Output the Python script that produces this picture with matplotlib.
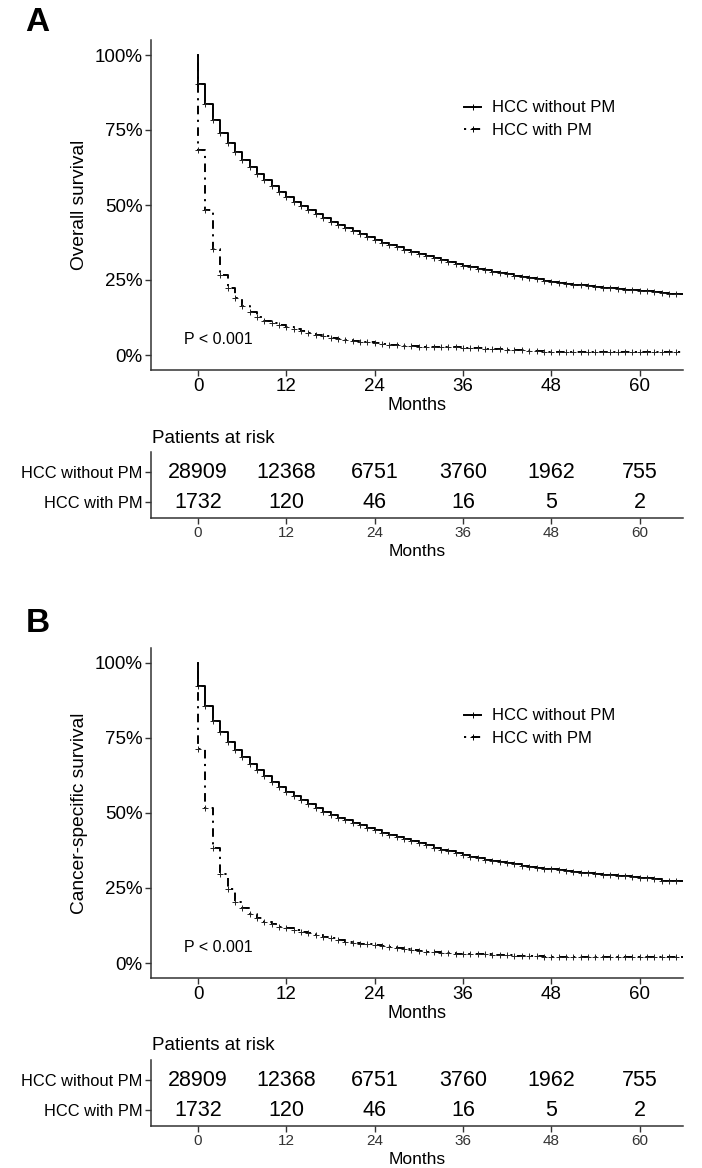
"""Kaplan-Meier curves (overall and cancer-specific survival) with risk tables."""

import matplotlib

matplotlib.use("Agg")
import matplotlib.pyplot as plt
from matplotlib.lines import Line2D

plt.rcParams["font.family"] = ["Liberation Sans", "DejaVu Sans"]

MONTHS = list(range(67))
GROUPS = ["HCC without PM", "HCC with PM"]

# survival (%), one value per month 0..66
OS_WITHOUT_PM = [
    90.5, 83.8, 78.3, 74.0, 70.6, 67.6, 65.0, 62.7, 60.4, 58.3,
    56.3, 54.5, 52.7, 51.1, 49.6, 48.2, 46.9, 45.6, 44.4, 43.3,
    42.2, 41.2, 40.2, 39.3, 38.4, 37.5, 36.7, 35.9, 35.1, 34.4,
    33.7, 33.0, 32.3, 31.7, 31.0, 30.4, 29.8, 29.3, 28.8, 28.3,
    27.8, 27.3, 26.9, 26.4, 26.0, 25.6, 25.2, 24.8, 24.4, 24.1,
    23.8, 23.5, 23.2, 22.9, 22.7, 22.4, 22.2, 22.0, 21.8, 21.6,
    21.4, 21.2, 20.9, 20.6, 20.3, 20.2, 20.2,
]
OS_WITH_PM = [
    68.3, 48.4, 35.4, 26.7, 22.2, 19.0, 16.2, 14.4, 12.6, 11.4,
    10.6, 9.9, 9.2, 8.6, 8.0, 7.4, 6.8, 6.2, 5.8, 5.4,
    5.1, 4.8, 4.5, 4.2, 4.0, 3.7, 3.4, 3.2, 3.0, 2.9,
    2.8, 2.8, 2.8, 2.8, 2.7, 2.6, 2.5, 2.3, 2.3, 2.0,
    2.0, 2.0, 1.7, 1.7, 1.7, 1.4, 1.4, 1.1, 1.1, 1.1,
    1.1, 1.1, 1.1, 1.1, 1.1, 1.1, 1.1, 1.1, 1.1, 1.1,
    1.1, 1.1, 1.1, 1.1, 1.1, 1.1, 1.1,
]
CSS_WITHOUT_PM = [
    92.2, 85.8, 80.8, 77.0, 73.8, 71.0, 68.7, 66.3, 64.2, 62.2,
    60.4, 58.7, 57.1, 55.6, 54.2, 52.9, 51.7, 50.5, 49.4, 48.4,
    47.6, 46.7, 45.9, 45.1, 44.3, 43.5, 42.7, 42.0, 41.3, 40.6,
    39.9, 39.2, 38.5, 37.8, 37.2, 36.6, 36.0, 35.5, 35.0, 34.5,
    34.1, 33.7, 33.3, 32.9, 32.5, 32.1, 31.8, 31.5, 31.2, 30.9,
    30.6, 30.4, 30.1, 29.9, 29.7, 29.5, 29.3, 29.1, 28.9, 28.7,
    28.5, 28.3, 27.9, 27.5, 27.3, 27.2, 27.2,
]
CSS_WITH_PM = [
    71.3, 51.6, 38.4, 29.7, 24.6, 20.5, 18.2, 16.4, 15.0, 13.8,
    13.0, 12.1, 11.6, 11.0, 10.4, 9.9, 9.3, 8.8, 8.2, 7.7,
    7.1, 6.8, 6.5, 6.2, 5.9, 5.6, 5.3, 5.0, 4.6, 4.3,
    4.0, 3.8, 3.6, 3.4, 3.2, 3.1, 3.0, 2.9, 2.9, 2.9,
    2.6, 2.6, 2.6, 2.3, 2.3, 2.3, 2.3, 1.9, 1.9, 1.9,
    1.9, 1.9, 1.9, 1.9, 1.9, 1.9, 1.9, 1.9, 1.9, 1.9,
    1.9, 1.9, 1.9, 1.9, 1.9, 1.9, 1.9,
]

RISK_TIMES = [0, 12, 24, 36, 48, 60]
RISK_WITHOUT_PM = [28909, 12368, 6751, 3760, 1962, 755]
RISK_WITH_PM = [1732, 120, 46, 16, 5, 2]

Y_TICKS = [0, 0.25, 0.5, 0.75, 1.0]
Y_TICK_LABELS = ["0%", "25%", "50%", "75%", "100%"]

W, H = 702, 1168
X_LIM = (-6.4, 65.9)
AXIS_COLOR = "#333333"
DOTDASH = (0, (1.1, 2.8, 4.4, 2.8))


def _rect(left, top, right, bottom):
    """Pixel box -> figure fraction rectangle."""
    return [left / W, 1 - bottom / H, (right - left) / W, (bottom - top) / H]


def _style_axes(ax):
    for side in ("top", "right"):
        ax.spines[side].set_visible(False)
    for side in ("left", "bottom"):
        ax.spines[side].set_color(AXIS_COLOR)
        ax.spines[side].set_linewidth(1.1)
    ax.tick_params(color=AXIS_COLOR, length=4, width=1.0, pad=2)


def draw_curves(ax, without_pm, with_pm, ylabel):
    """Draw the two step curves with censor marks, legend and p-value."""
    for values, style in ((without_pm, "-"), (with_pm, DOTDASH)):
        surv = [v / 100 for v in values]
        ax.plot([0] + MONTHS, [1.0] + surv, drawstyle="steps-post",
                color="black", lw=1.4, linestyle=style, clip_on=True)
        ax.plot(MONTHS[:-1], surv[:-1], ls="none", marker="+", ms=4,
                mew=0.7, color="#222222")
    ax.set_xlim(*X_LIM)
    ax.set_ylim(-0.05, 1.05)
    ax.set_xticks(RISK_TIMES)
    ax.set_yticks(Y_TICKS)
    ax.set_yticklabels(Y_TICK_LABELS)
    _style_axes(ax)
    ax.tick_params(labelsize=13.5)
    ax.set_ylabel(ylabel, fontsize=13.8)
    ax.yaxis.label.set_va("center")
    ax.yaxis.set_label_coords((80 - 151) / 532, 0.5)
    ax.set_xlabel("Months", fontsize=13)
    ax.xaxis.label.set_va("center")
    ax.xaxis.set_label_coords(0.5, -35 / 330)
    ax.text(-1.9, 0.05, "P < 0.001", fontsize=11.5, ha="left", va="center")
    handles = [
        Line2D([], [], color="black", lw=1.4, marker="+", ms=4, mew=0.7),
        Line2D([], [], color="black", lw=1.4, linestyle=DOTDASH,
               marker="+", ms=4, mew=0.7),
    ]
    ax.legend(handles, GROUPS, loc="upper left", bbox_to_anchor=(0.588, 0.817),
              frameon=False, fontsize=12, handlelength=1.05,
              handletextpad=0.65, labelspacing=0.46, borderpad=0,
              borderaxespad=0, numpoints=1)


def draw_risk_table(ax):
    """Draw the numbers-at-risk table below a panel."""
    for row, counts in ((2, RISK_WITHOUT_PM), (1, RISK_WITH_PM)):
        for t, n in zip(RISK_TIMES, counts):
            ax.text(t, row, str(n), fontsize=15.5, ha="center", va="center")
    ax.set_xlim(*X_LIM)
    ax.set_ylim(0.467, 2.667)
    ax.set_xticks(RISK_TIMES)
    ax.set_yticks([2, 1])
    ax.set_yticklabels(GROUPS)
    _style_axes(ax)
    ax.tick_params(axis="y", labelsize=11.8)
    ax.tick_params(axis="x", labelsize=11, labelcolor=AXIS_COLOR)
    ax.text(0.002, 1 + 14 / 66, "Patients at risk", transform=ax.transAxes,
            fontsize=13.5, ha="left", va="center")
    ax.set_xlabel("Months", fontsize=12.5)
    ax.xaxis.label.set_va("center")
    ax.xaxis.set_label_coords(0.5, -33 / 66)


fig = plt.figure(figsize=(W / 100, H / 100), dpi=100)

ax_a = fig.add_axes(_rect(151, 40, 683, 370))
draw_curves(ax_a, OS_WITHOUT_PM, OS_WITH_PM, "Overall survival")
draw_risk_table(fig.add_axes(_rect(151, 452, 683, 518)))

ax_b = fig.add_axes(_rect(151, 648, 683, 978))
draw_curves(ax_b, CSS_WITHOUT_PM, CSS_WITH_PM, "Cancer-specific survival")
draw_risk_table(fig.add_axes(_rect(151, 1060, 683, 1126)))

fig.text(25 / W, 1 - 31 / H, "A", fontsize=24, fontweight="bold",
         ha="left", va="baseline")
fig.text(26 / W, 1 - 632 / H, "B", fontsize=24, fontweight="bold",
         ha="left", va="baseline")

fig.savefig("out.png", dpi=100)
plt.close(fig)
